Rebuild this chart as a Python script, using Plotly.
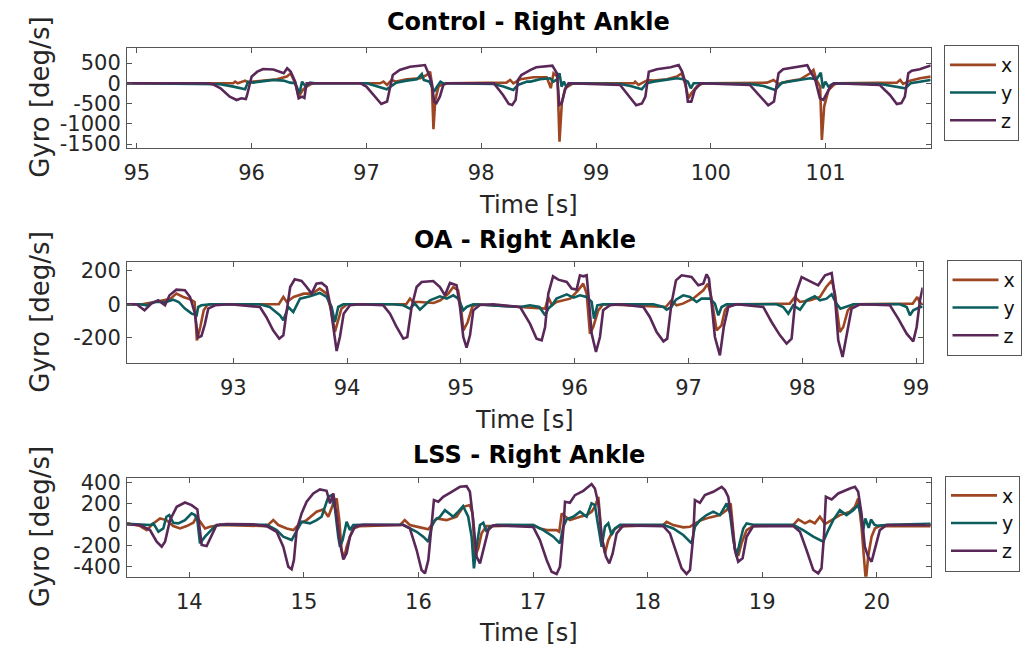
import plotly.graph_objects as go

# ---------------- data ----------------
# Panel 1: Control - Right Ankle
c_t_z = [94.915, 95.60, 95.66, 95.73, 95.81, 95.87, 95.91, 95.95, 95.96, 96.00, 96.05, 96.10, 96.19, 96.28, 96.31, 96.34, 96.38, 96.41, 96.44, 96.46, 96.47, 96.48, 96.55,
         96.95, 97.00, 97.08, 97.13, 97.18, 97.21, 97.23, 97.29, 97.38, 97.46, 97.51, 97.54, 97.57, 97.59, 97.61, 97.64, 97.67, 97.70,
         98.11, 98.19, 98.24, 98.27, 98.30, 98.32, 98.35, 98.43, 98.48, 98.62, 98.64, 98.66, 98.68, 98.70, 98.73, 98.76,
         99.21, 99.30, 99.35, 99.40, 99.43, 99.46, 99.53, 99.65, 99.72, 99.75, 99.78, 99.80, 99.83, 99.86, 99.91,
         100.34, 100.43, 100.50, 100.55, 100.59, 100.63, 100.72, 100.84, 100.86, 100.91, 100.95, 100.98, 101.01, 101.05, 101.08,
         101.47, 101.56, 101.62, 101.66, 101.69, 101.72, 101.75, 101.82, 101.915]
c_z = [0, 0, -20, -123, -330, -412, -370, -390, -300, 163, 287, 353, 340, 247, 370, 290, 40, -370, -330, -360, -165, 0, 0,
       0, -82, -330, -511, -450, 0, 205, 330, 410, 435, 450, 247, 0, -453, -490, -330, -40, 0,
       0, -288, -511, -535, -410, 80, 205, 330, 395, 435, 330, 247, -535, -500, -165, 0,
       -40, -370, -545, -500, -330, 287, 345, 395, 450, 290, 0, -453, -453, -165, 0,
       -40, -330, -545, -450, 247, 345, 395, 445, 330, 80, -370, -410, -250, -40, 0,
       -40, -288, -511, -490, -330, 247, 310, 345, 440]

c_t_x = [94.915, 95.84, 95.857, 95.88, 95.944, 95.97, 96.016, 96.10, 96.22, 96.307, 96.34, 96.38, 96.41, 96.446, 96.48, 96.52, 96.55,
         97.12, 97.149, 97.18, 97.22, 97.26, 97.35, 97.47, 97.526, 97.555, 97.57, 97.584, 97.60, 97.628, 97.66, 97.70,
         98.22, 98.252, 98.28, 98.34, 98.455, 98.571, 98.606, 98.63, 98.664, 98.682, 98.702, 98.731, 98.77, 98.80,
         99.33, 99.341, 99.37, 99.413, 99.45, 99.50, 99.617, 99.704, 99.747, 99.775, 99.805, 99.83, 99.878, 99.92, 99.95,
         100.49, 100.546, 100.59, 100.662, 100.778, 100.865, 100.894, 100.92, 100.952, 100.967, 100.987, 101.025, 101.07, 101.10,
         101.62, 101.649, 101.675, 101.736, 101.823, 101.915]
c_x = [0, 0, 41, 0, 66, 16, 41, 66, 99, 165, 247, 0, -330, -165, -82, -16, 0,
       0, 41, -41, 82, 41, 99, 123, 206, 288, 0, -1136, -410, -82, -25, 0,
       16, 82, 0, 99, 148, 148, -120, 247, 165, -1440, -495, -123, -41, 0,
       0, 41, -41, 16, 82, 66, 99, 165, 247, 0, -370, -247, -82, -16, 0,
       16, 82, -16, 41, 99, 247, 330, 82, -82, -1400, -575, -165, -41, 0,
       16, 82, -16, 66, 123, 165]

c_t_y = [94.915, 95.726, 95.842, 95.944, 95.97, 96.016, 96.07, 96.19, 96.278, 96.336, 96.38, 96.417, 96.44, 96.47, 96.51, 96.55,
         97.004, 97.09, 97.178, 97.21, 97.26, 97.35, 97.44, 97.483, 97.50, 97.55, 97.59, 97.615, 97.645, 97.67,
         98.107, 98.194, 98.28, 98.32, 98.40, 98.43, 98.513, 98.60, 98.63, 98.66, 98.682, 98.70, 98.72, 98.74, 98.78,
         99.21, 99.30, 99.399, 99.44, 99.50, 99.62, 99.704, 99.76, 99.80, 99.826, 99.85, 99.90,
         100.342, 100.46, 100.56, 100.62, 100.72, 100.865, 100.92, 100.958, 100.976, 100.997, 101.025, 101.07,
         101.475, 101.59, 101.693, 101.74, 101.823, 101.915]
c_y = [0, -25, -82, -148, 41, 16, 41, 82, 66, 16, 0, -247, 41, -82, 16, 0,
       0, -66, -148, -82, 16, 66, 99, 230, 82, 41, -206, -82, 41, 0,
       -16, -82, -165, -41, 41, 41, 99, 123, 41, 99, 247, -82, 41, -82, 0,
       -16, -66, -148, 0, 41, 82, 123, 99, 41, -123, 0, 0,
       -16, -66, -165, 16, 66, 123, 99, 263, -123, 41, -82, 0,
       -16, -66, -123, 0, 41, 82]

# Panel 2: OA - Right Ankle
o_t_z = [92.066, 92.15, 92.22, 92.28, 92.34, 92.40, 92.44, 92.50, 92.575, 92.62, 92.663, 92.69, 92.72, 92.75, 92.78, 92.84, 92.97,
         93.234, 93.29, 93.35, 93.404, 93.44, 93.47, 93.50, 93.54, 93.60, 93.645, 93.688, 93.73, 93.776, 93.82, 93.85, 93.879, 93.908, 93.937, 93.97, 94.025, 94.113,
         94.318, 94.377, 94.435, 94.494, 94.529, 94.567, 94.611, 94.655, 94.757, 94.816, 94.86, 94.904, 94.962, 94.992, 95.021, 95.05, 95.08, 95.109, 95.167, 95.285,
         95.52, 95.607, 95.665, 95.71, 95.74, 95.768, 95.81, 95.856, 95.93, 95.973, 96.017, 96.046, 96.075, 96.105, 96.125, 96.149, 96.187, 96.222, 96.25, 96.31, 96.398,
         96.603, 96.66, 96.72, 96.78, 96.813, 96.85, 96.89, 96.94, 97.027, 97.086, 97.13, 97.159, 97.18, 97.203, 97.232, 97.276, 97.31, 97.35, 97.423,
         97.657, 97.73, 97.804, 97.862, 97.906, 97.944, 97.994, 98.052, 98.14, 98.20, 98.258, 98.287, 98.316, 98.354, 98.39, 98.433, 98.507,
         98.77, 98.843, 98.917, 98.975, 99.005, 99.034, 99.058]
o_z = [0, 0, -36, 4, 24, -6, 54, 88, 84, 44, -56, -200, -190, -120, -26, -6, 0,
       -16, -76, -156, -206, -186, -36, 104, 150, 140, 104, 64, 124, 128, 104, 4, -136, -280, -196, -56, -6, 0,
       -6, -56, -136, -206, -196, -16, 104, 134, 140, 104, 54, 128, 114, -16, -196, -260, -186, -36, -4, 0,
       -16, -116, -206, -216, -136, 64, 168, 148, 134, 94, 88, 174, 168, 174, 24, -176, -286, -196, -36, -6, 0,
       -16, -76, -166, -222, -206, 4, 144, 174, 164, 114, 124, 180, 154, 4, -196, -306, -136, -16, 0,
       -16, -106, -186, -236, -206, 64, 164, 144, 114, 174, 188, 44, -216, -316, -176, -26, 0,
       -6, -86, -176, -222, -136, 24, 100]

o_t_x = [92.066, 92.20, 92.28, 92.34, 92.40, 92.45, 92.50, 92.56, 92.62, 92.66, 92.68, 92.71, 92.74, 92.77, 92.80,
         93.40, 93.44, 93.47, 93.53, 93.62, 93.69, 93.76, 93.82, 93.86, 93.893, 93.92, 93.95, 94.00,
         94.52, 94.553, 94.58, 94.64, 94.76, 94.82, 94.89, 94.933, 94.975, 95.00, 95.022, 95.06, 95.10, 95.14,
         95.74, 95.768, 95.80, 95.84, 95.96, 96.03, 96.075, 96.105, 96.134, 96.163, 96.207, 96.25,
         96.80, 96.85, 96.895, 96.95, 97.04, 97.13, 97.17, 97.20, 97.247, 97.29, 97.32, 97.36,
         97.89, 97.935, 97.98, 98.07, 98.155, 98.21, 98.26, 98.287, 98.33, 98.36, 98.40, 98.45,
         98.97, 99.01, 99.04, 99.058]
o_x = [0, 0, 10, 20, 28, 34, 64, 44, 30, 14, -216, -136, -36, -6, 0,
       0, 44, 14, 44, 64, 64, 94, 64, -36, -166, -106, -26, 0,
       0, 34, 14, 14, 8, 24, 64, 104, 84, -16, -156, -106, -16, 0,
       -26, 44, -6, 14, 34, 84, 124, 64, -176, -136, -36, 0,
       -16, 24, -6, 4, 34, 84, 124, 44, -156, -126, -36, 0,
       4, 44, 14, 24, 44, 104, 144, 64, -166, -136, -36, 0,
       4, 44, 0, 8]

o_t_y = [92.066, 92.18, 92.24, 92.30, 92.41, 92.47, 92.52, 92.575, 92.634, 92.678, 92.692, 92.72, 92.80,
         93.234, 93.32, 93.41, 93.44, 93.483, 93.527, 93.586, 93.674, 93.76, 93.82, 93.864, 93.893, 93.922, 93.966,
         94.40, 94.494, 94.552, 94.596, 94.64, 94.728, 94.816, 94.875, 94.933, 94.977, 95.021, 95.05, 95.109,
         95.52, 95.607, 95.69, 95.74, 95.768, 95.80, 95.84, 95.93, 95.99, 96.046, 96.105, 96.149, 96.17, 96.199, 96.25,
         96.69, 96.78, 96.808, 96.85, 96.89, 96.954, 97.013, 97.071, 97.115, 97.188, 97.232, 97.262, 97.291, 97.335,
         97.774, 97.832, 97.877, 97.92, 97.98, 98.038, 98.11, 98.155, 98.213, 98.258, 98.30, 98.335, 98.375, 98.45,
         98.858, 98.917, 98.946, 98.975, 99.034, 99.058]
o_y = [0, 0, -6, 14, 14, 28, 14, -26, -56, -66, -16, -6, 0,
       0, -16, -66, -96, -16, -46, 34, 48, 68, 44, -16, -106, -16, 0,
       0, -6, -26, 4, -32, 24, 48, 34, 54, 34, -36, -16, 0,
       -16, -6, -16, -66, -26, -6, 34, 60, 40, 54, 44, 14, -86, -6, 0,
       0, -16, -32, -16, 28, 54, 44, 14, 34, 34, 4, -66, -16, 0,
       0, -16, -56, -6, -32, 24, 48, 24, 34, 60, 4, -26, -16, 0,
       0, -16, -66, -36, -16, -16]

# Panel 3: LSS - Right Ankle
l_t_z = [13.456, 13.57, 13.657, 13.715, 13.759, 13.788, 13.831, 13.89, 13.962, 14.02, 14.07, 14.087, 14.108, 14.151, 14.195, 14.238, 14.326,
         14.558, 14.675, 14.762, 14.82, 14.864, 14.893, 14.913, 14.937, 14.98, 15.024, 15.082, 15.14, 15.198, 15.228, 15.257, 15.286, 15.315, 15.344, 15.373, 15.402, 15.446, 15.518,
         15.867, 15.925, 15.984, 16.027, 16.057, 16.086, 16.115, 16.135, 16.173, 16.216, 16.275, 16.362, 16.42, 16.449, 16.478, 16.507, 16.537, 16.566, 16.609, 16.653,
         17.002, 17.06, 17.119, 17.162, 17.206, 17.235, 17.264, 17.279, 17.322, 17.366, 17.439, 17.511, 17.54, 17.57, 17.599, 17.636, 17.666, 17.695, 17.73, 17.788,
         18.137, 18.195, 18.253, 18.297, 18.34, 18.37, 18.398, 18.413, 18.457, 18.5, 18.573, 18.646, 18.675, 18.704, 18.733, 18.762, 18.791, 18.829, 18.864, 18.922,
         19.271, 19.33, 19.387, 19.446, 19.489, 19.518, 19.539, 19.556, 19.606, 19.664, 19.766, 19.81, 19.838, 19.867, 19.896, 19.925, 19.955, 19.984, 20.027, 20.085, 20.471]
l_z = [2, -3, -51, -162, -209, -162, 44, 171, 212, 187, 146, 13, -193, -203, -98, -3, 6,
       3, -13, -67, -209, -400, -425, -336, -51, 108, 219, 298, 336, 323, 203, 298, 76, -177, -330, -273, -114, -19, 0,
       -3, -35, -241, -431, -463, -336, 44, 235, 219, 266, 304, 361, 368, 314, 44, -304, -368, -241, -51, -6,
       -22, -146, -336, -447, -469, -400, -51, 219, 209, 282, 323, 387, 345, 203, -114, -304, -368, -273, -82, -6,
       -13, -82, -273, -415, -469, -431, -114, 235, 209, 282, 314, 361, 330, 266, 44, -241, -352, -320, -114, -13,
       -13, -67, -241, -431, -463, -415, -114, 266, 241, 298, 345, 361, 314, 108, -209, -304, -352, -241, -51, -3, -3]

l_t_x = [13.456, 13.57, 13.628, 13.686, 13.744, 13.80, 13.86, 13.919, 13.977, 14.035, 14.064, 14.093, 14.137, 14.18, 14.268,
         14.675, 14.733, 14.777, 14.85, 14.908, 14.966, 15.024, 15.111, 15.169, 15.213, 15.257, 15.286, 15.309, 15.329, 15.35, 15.373, 15.402, 15.431, 15.49,
         15.838, 15.88, 15.925, 16.013, 16.086, 16.115, 16.158, 16.245, 16.333, 16.391, 16.449, 16.472, 16.493, 16.522, 16.551, 16.595, 16.653,
         17.002, 17.06, 17.119, 17.206, 17.229, 17.25, 17.264, 17.322, 17.41, 17.468, 17.511, 17.54, 17.57, 17.599, 17.628, 17.657, 17.70, 17.744, 17.817,
         18.137, 18.166, 18.224, 18.311, 18.37, 18.413, 18.471, 18.544, 18.631, 18.69, 18.725, 18.762, 18.791, 18.82, 18.864, 18.922,
         19.271, 19.315, 19.373, 19.417, 19.46, 19.504, 19.548, 19.606, 19.678, 19.766, 19.81, 19.838, 19.867, 19.905, 19.925, 19.955, 19.984, 20.027, 20.471]
l_x = [15, -13, -51, 13, 60, 44, -13, -35, -13, 19, 76, 28, -35, -19, -3,
       -13, 44, -3, -35, -51, 13, 44, 124, 146, 76, 203, 250, 44, -241, -320, -209, -114, -35, -13,
       -3, 44, -3, -25, -44, -3, 60, 44, 76, 171, 187, 108, -304, -225, -82, -13, -13,
       -3, -35, -51, -51, -67, 108, 92, 44, 76, 92, 124, 171, 266, -114, -273, -146, -51, -19, -13,
       -3, 28, -3, -25, -19, 13, 44, 70, 92, 139, 203, -225, -298, -177, -51, -13,
       -3, 51, 13, 38, 13, 76, 6, 44, 92, 124, 171, 250, -19, -540, -304, -114, -35, -13, -13]

l_t_y = [13.456, 13.657, 13.686, 13.73, 13.773, 13.80, 13.825, 13.86, 13.904, 13.962, 14.02, 14.049, 14.07, 14.093, 14.137, 14.18, 14.224, 14.268,
         14.675, 14.762, 14.82, 14.893, 14.937, 14.98, 15.053, 15.111, 15.155, 15.213, 15.242, 15.271, 15.30, 15.315, 15.338, 15.373, 15.402, 15.431, 15.50,
         15.867, 15.984, 16.042, 16.086, 16.115, 16.144, 16.187, 16.231, 16.304, 16.347, 16.39, 16.434, 16.464, 16.484, 16.507, 16.537, 16.566, 16.595, 16.624, 16.682,
         17.002, 17.09, 17.177, 17.235, 17.264, 17.293, 17.351, 17.41, 17.468, 17.511, 17.54, 17.57, 17.599, 17.628, 17.657, 17.686, 17.715, 17.76,
         18.137, 18.224, 18.311, 18.384, 18.413, 18.457, 18.515, 18.573, 18.631, 18.69, 18.719, 18.748, 18.777, 18.806, 18.835, 18.864, 18.922,
         19.271, 19.358, 19.446, 19.533, 19.577, 19.62, 19.678, 19.736, 19.795, 19.838, 19.867, 19.88, 19.90, 19.93, 19.95, 19.98, 20.0, 20.10, 20.471]
l_y = [10, -3, 13, -67, -35, 76, 92, 19, 13, 44, 108, 92, 44, -177, -114, -67, -13, 0,
       0, -51, -114, -146, -51, 28, 13, 44, 76, 266, 282, 155, -114, -209, -146, 28, -51, -3, 0,
       0, -67, -114, -162, -19, 44, 76, 139, 76, 124, 177, 76, -114, -415, -209, -3, 19, -67, -19, 0,
       -3, -51, -114, -177, -19, 51, 76, 124, 76, 203, 187, -19, -209, -19, 13, -98, -35, 0,
       0, -35, -98, -177, -19, 44, 92, 124, 92, 203, 108, -146, -304, -162, -35, 13, 0,
       0, -51, -114, -162, -51, 44, 139, 92, 139, 187, 76, -60, 60, -30, 50, 0, -10, 0, 10]

# axis ranges and ticks
ranges_x = [[94.915, 101.915], [92.066, 99.058], [13.456, 20.471]]
ranges_y = [[-1598, 879], [-352, 252], [-495, 448]]
xticks = [[95, 96, 97, 98, 99, 100, 101], [93, 94, 95, 96, 97, 98, 99], [14, 15, 16, 17, 18, 19, 20]]
yticks = [[-1500, -1000, -500, 0, 500], [-200, 0, 200], [-400, -200, 0, 200, 400]]
ytick_text = [["-1500", "-1000", "-500", "0", "500"], ["-200", "0", "200"], ["-400", "-200", "0", "200", "400"]]
titles = ["Control - Right Ankle", "OA - Right Ankle", "LSS - Right Ankle"]
series_names = ["x", "y", "z"]
colors = ["#9E4622", "#0B5D5E", "#5A2858"]

# ---------------- layout geometry (px) ----------------
W, H = 1026, 649
FONT = "DejaVu Sans"
AX = "#555555"
boxes = [(127, 930.7, 47.7, 148.0), (127, 922.7, 262.3, 363.0), (127, 930.7, 477.7, 576.7)]
legend_pos = [(944, 45), (946.5, 260), (945, 475.5)]
title_y = [22, 240, 455]
xlabel_y = [205, 420, 633]
ylabel_x = 40

fig = go.Figure()
data = [
    [(c_t_x, c_x), (c_t_y, c_y), (c_t_z, c_z)],
    [(o_t_x, o_x), (o_t_y, o_y), (o_t_z, o_z)],
    [(l_t_x, l_x), (l_t_y, l_y), (l_t_z, l_z)],
]
for p in range(3):
    sfx = "" if p == 0 else str(p + 1)
    for s in range(3):
        t, v = data[p][s]
        fig.add_trace(go.Scatter(
            x=t, y=v, mode="lines", name=series_names[s],
            line=dict(color=colors[s], width=2.6),
            xaxis="x" + sfx, yaxis="y" + sfx,
            legend="legend" + sfx,
        ))

layout = dict(
    width=W, height=H,
    margin=dict(l=0, r=0, t=0, b=0, autoexpand=False),
    paper_bgcolor="white", plot_bgcolor="white",
    font=dict(family=FONT, size=21, color="#262626"),
    annotations=[],
)
for p in range(3):
    sfx = "" if p == 0 else str(p + 1)
    l, r, t, b = boxes[p]
    common = dict(showline=True, mirror="ticks", linecolor=AX, linewidth=1,
                  ticks="inside", ticklen=5, tickcolor=AX, tickwidth=1,
                  showgrid=False, zeroline=False, automargin=False,
                  tickfont=dict(family=FONT, size=21, color="#262626"))
    layout["xaxis" + sfx] = dict(
        domain=[l / W, r / W], anchor="y" + sfx, range=ranges_x[p],
        tickvals=xticks[p], ticktext=[str(v) for v in xticks[p]],
        ticklabelstandoff=6, **common)
    layout["yaxis" + sfx] = dict(
        domain=[1 - b / H, 1 - t / H], anchor="x" + sfx, range=ranges_y[p],
        tickvals=yticks[p], ticktext=ytick_text[p],
        ticklabelstandoff=1, **common)
    lx, ly = legend_pos[p]
    layout["legend" + sfx] = dict(
        x=lx / W, y=1 - ly / H, xanchor="left", yanchor="top",
        bordercolor="#555555", borderwidth=1, bgcolor="white",
        font=dict(family=FONT, size=19, color="#111111"),
        tracegroupgap=0, itemwidth=46,
    )
    cx = (l + r) / 2 / W
    layout["annotations"] += [
        dict(text="<b>" + titles[p] + "</b>", x=cx, y=1 - title_y[p] / H,
             xref="paper", yref="paper", xanchor="center", yanchor="middle",
             showarrow=False, font=dict(family=FONT, size=24, color="#000000")),
        dict(text="Time [s]", x=cx, y=1 - xlabel_y[p] / H,
             xref="paper", yref="paper", xanchor="center", yanchor="middle",
             showarrow=False, font=dict(family=FONT, size=24, color="#262626")),
        dict(text="Gyro [deg/s]", x=ylabel_x / W, y=1 - (t + b) / 2 / H,
             xref="paper", yref="paper", xanchor="center", yanchor="middle",
             textangle=-90, showarrow=False,
             font=dict(family=FONT, size=26, color="#262626")),
    ]

fig.update_layout(**layout)
fig.write_html("out.html")
